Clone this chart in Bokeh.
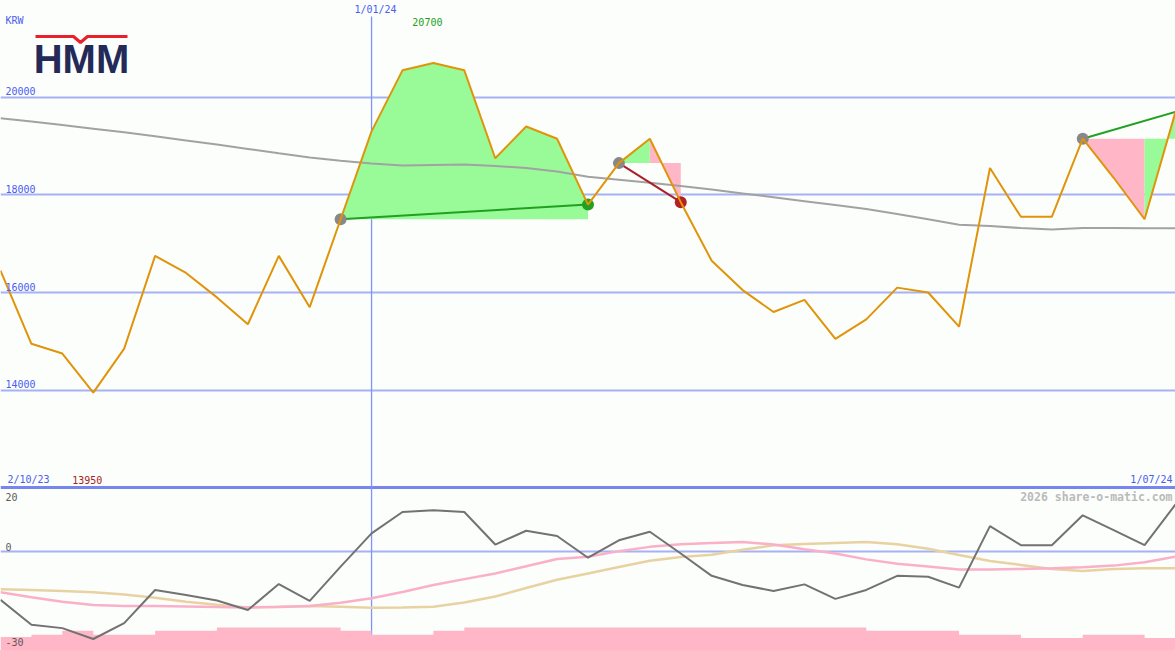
from bokeh.plotting import figure
from bokeh.models import Range1d
from bokeh.core.properties import value
from bokeh.embed import file_html
from bokeh.resources import INLINE

# ---------------- data ----------------
date_labels = ["2/10/23", "1/01/24", "1/07/24"]
year_mark_index = 12
currency = "KRW"

price = [16450, 14950, 14750, 13950, 14850, 16750, 16400, 15900, 15350, 16750,
         15700, 17500, 19300, 20550, 20700, 20550, 18750, 19400, 19150, 17800,
         18650, 19150, 17850, 16650, 16050, 15600, 15850, 15050, 15450, 16100,
         16000, 15300, 18550, 17550, 17550, 19150, 18350, 17500, 19700]

moving_avg = [19570, 19500, 19430, 19355, 19280, 19200, 19115, 19030, 18940, 18850,
              18765, 18700, 18640, 18600, 18610, 18620, 18590, 18550, 18480, 18370,
              18310, 18250, 18180, 18110, 18030, 17950, 17870, 17790, 17710, 17610,
              17500, 17390, 17360, 17320, 17290, 17320, 17320, 17315, 17315]

momentum = [-14.6, -22.2, -23.2, -26.5, -21.7, -11.6, -13.1, -14.8, -17.7, -9.8,
            -14.9, -4.5, 5.6, 12.1, 12.6, 12.1, 2.2, 6.4, 4.8, -1.8,
            3.5, 6.1, -0.5, -7.3, -10.1, -11.9, -9.9, -14.3, -11.6, -7.3,
            -7.6, -10.9, 7.8, 2.0, 2.0, 11.1, 6.6, 2.0, 14.4]

signal_pink = [-12.3, -13.8, -15.2, -16.2, -16.5, -16.5, -16.6, -16.8, -16.9, -16.8,
               -16.5, -15.5, -14.1, -12.2, -10.1, -8.3, -6.6, -4.4, -2.2, -1.5,
               0.2, 1.5, 2.3, 2.7, 3.0, 2.2, 0.8, -0.5, -2.3, -3.6,
               -4.5, -5.4, -5.4, -5.2, -5.0, -4.7, -4.2, -3.2, -1.5]

signal_tan = [-11.4, -11.6, -11.9, -12.3, -13.0, -14.0, -15.2, -16.1, -16.9, -16.7,
              -16.5, -16.7, -17.0, -16.9, -16.7, -15.4, -13.6, -11.0, -8.5, -6.6,
              -4.6, -2.7, -1.6, -0.9, 0.6, 2.0, 2.4, 2.7, 3.0, 2.3,
              0.9, -1.0, -2.8, -4.0, -5.2, -5.8, -5.2, -5.0, -5.0]

volume_level = [4.1, 4.8, 6.0, 4.8, 4.8, 6.0, 6.0, 7.0, 7.0, 7.0,
                7.0, 6.0, 4.8, 4.8, 6.0, 7.0, 7.0, 7.0, 7.0, 7.0,
                7.0, 7.0, 7.0, 7.0, 7.0, 7.0, 7.0, 7.0, 6.0, 6.0,
                6.0, 4.8, 4.8, 3.8, 3.8, 4.8, 4.8, 3.8]

trades = [(11, 19), (20, 22), (35, 38)]
price_ticks = [14000, 16000, 18000, 20000]
osc_ticks = [20, 0, -30]

idx = list(range(len(price)))
n = len(price) - 1

# ---------------- geometry helpers (reference pixel -> data) ----------------
def X(px):
    return px / 1175.0 * n

def PY(py):
    return 20000 - (py - 96.7) * 20.48

def OY(py):
    return (551.3 - py) / 3.29

bg = "#fcfefc"
blue_txt = "#4b5cf0"
grid_c = "#a6b2f2"
green_fill = "#98fb98"
pink_fill = "#ffb6c6"
green_line = "#22a022"
red_line = "#a8202a"
mono = value("DejaVu Sans Mono")

p = figure(width=1175, height=650, x_range=Range1d(0, n), y_range=Range1d(PY(650), PY(0)),
           output_backend="svg", toolbar_location=None, min_border=0,
           x_axis_type=None, y_axis_type=None,
           background_fill_color=bg, border_fill_color=bg, outline_line_color=None)
p.grid.visible = False
p.extra_y_ranges = {"osc": Range1d(OY(650), OY(0))}

# grid lines
p.hspan(y=price_ticks, line_color=grid_c, line_width=2)
p.hspan(y=[12000], line_color="#7686ee", line_width=3)
p.hspan(y=[0], line_color=grid_c, line_width=2, y_range_name="osc")

# year marker
p.segment(x0=[year_mark_index], y0=[PY(16)], x1=[year_mark_index], y1=[PY(650)],
          line_color="#7f92f8", line_width=1.3)

# trade fills
for a, b in trades:
    base = price[a]
    groups = []
    for i in range(a, b):
        col = green_fill if price[i + 1] >= base else pink_fill
        if groups and groups[-1][0] == col:
            groups[-1][1].append(i + 1)
        else:
            groups.append([col, [i, i + 1]])
    for col, xs in groups:
        p.varea(x=xs, y1=[base] * len(xs), y2=[price[k] for k in xs],
                fill_color=col, fill_alpha=1)

# moving average
p.line(idx, moving_avg, line_color="#a2a2a2", line_width=2)

# trade lines and dots
for a, b in trades:
    col = green_line if price[b] >= price[a] else red_line
    p.line([a, b], [price[a], price[b]], line_color=col, line_width=2)
for a, b in trades:
    p.scatter([a], [price[a]], size=12, fill_color="#888888", line_color=None)
    if b < n:
        col = green_line if price[b] >= price[a] else "#b22222"
        p.scatter([b], [price[b]], size=12, fill_color=col, line_color=None)

# price
p.line(idx, price, line_color="#e0940a", line_width=2)

# lower panel
vol_top = [-30 + v for v in volume_level]
p.varea_step(x=idx, y1=[-30] * len(idx), y2=vol_top + [vol_top[-1]], step_mode="after",
             fill_color=pink_fill, y_range_name="osc")
p.line(idx, signal_tan, line_color="#e8d2a2", line_width=2.5, y_range_name="osc")
p.line(idx, signal_pink, line_color="#f9b0c8", line_width=2.5, y_range_name="osc")
p.line(idx, momentum, line_color="#727272", line_width=2, y_range_name="osc")

# texts
p.text(x=[X(5)], y=[PY(20)], text=[currency], text_font=mono, text_font_size="10px",
       text_color=blue_txt, text_baseline="middle", text_align="left")
p.text(x=[X(5)] * len(price_ticks), y=price_ticks, text=[str(t) for t in price_ticks],
       text_font=mono, text_font_size="10px", text_color=blue_txt,
       text_baseline="middle", text_align="left", y_offset=-6)
p.text(x=[year_mark_index], y=[PY(9)], text=[date_labels[1]], text_font=mono,
       text_font_size="10px", text_color=blue_txt, text_baseline="middle",
       text_align="center", x_offset=4)
imax = price.index(max(price))
imin = price.index(min(price))
p.text(x=[imax], y=[PY(21)], text=[str(max(price))], text_font=mono, text_font_size="10px",
       text_color=green_line, text_baseline="middle", text_align="center", x_offset=-6)
p.text(x=[imin], y=[PY(479)], text=[str(min(price))], text_font=mono, text_font_size="10px",
       text_color="#a82020", text_baseline="middle", text_align="center", x_offset=-6)
p.text(x=[X(7)], y=[PY(479)], text=[date_labels[0]], text_font=mono, text_font_size="10px",
       text_color=blue_txt, text_baseline="middle", text_align="left")
p.text(x=[X(1172)], y=[PY(479)], text=[date_labels[2]], text_font=mono, text_font_size="10px",
       text_color=blue_txt, text_baseline="middle", text_align="right")
p.text(x=[X(1172)], y=[PY(496)], text=["2026 share-o-matic.com"], text_font=mono,
       text_font_size="11.5px", text_font_style="bold", text_color="#bababa",
       text_baseline="middle", text_align="right")
osc_py = {20: 496, 0: 546, -30: 641}
p.text(x=[X(5)] * 3, y=[OY(osc_py[t]) for t in osc_ticks], text=[str(t) for t in osc_ticks],
       text_font=mono, text_font_size="10px", text_color="#5a5a5a",
       text_baseline="middle", text_align="left", y_range_name="osc")

# logo
p.line([X(35), X(73), X(80), X(87), X(127)], [PY(36), PY(36), PY(42), PY(36), PY(36)],
       line_color="#e8202a", line_width=3)
p.text(x=[X(81)], y=[PY(58)], text=["HMM"], text_font=value("Liberation Sans"),
       text_font_size="40px", text_font_style="bold", text_color="#232a58",
       text_baseline="middle", text_align="center")

open("out.html", "w").write(file_html(p, INLINE))
